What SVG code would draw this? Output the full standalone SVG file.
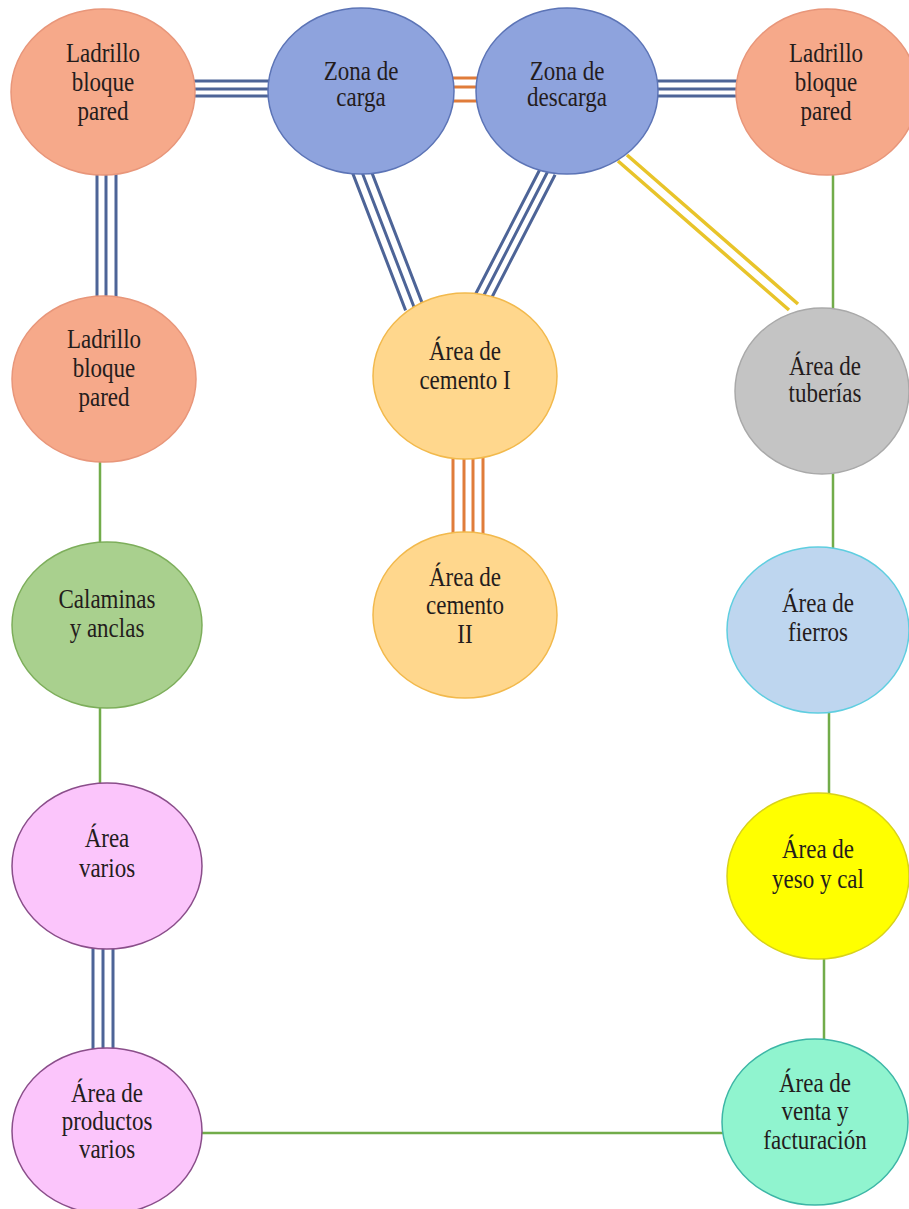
<svg xmlns="http://www.w3.org/2000/svg" width="909" height="1209" viewBox="0 0 909 1209">
  <style>
    .lbl { font-family: "Liberation Serif", "Times New Roman", serif; font-size: 23px; fill: #241c1c; text-anchor: middle; }
    .salmon { fill: #F6A98A; stroke: #E8967A; stroke-width: 1.5; }
    .blue { fill: #8EA3DD; stroke: #5C74B6; stroke-width: 1.5; }
    .cement { fill: #FFD78D; stroke: #F2B94C; stroke-width: 1.5; }
    .gray { fill: #C4C4C4; stroke: #A9A9A9; stroke-width: 1.5; }
    .green { fill: #A9D08E; stroke: #7DAE5B; stroke-width: 1.5; }
    .iron { fill: #BED6EF; stroke: #5FCEE0; stroke-width: 1.5; }
    .gypsum { fill: #FFFF00; stroke: #D8D21A; stroke-width: 1.5; }
    .pink { fill: #FBC5FB; stroke: #8A4E8A; stroke-width: 1.5; }
    .mint { fill: #90F4CF; stroke: #3CB6A6; stroke-width: 1.5; }
    .lb { stroke: #4D6497; stroke-width: 3; fill: none; }
    .lo { stroke: #E07C3A; stroke-width: 3; fill: none; }
    .ly { stroke: #E8C42A; stroke-width: 3.5; fill: none; }
    .lg { stroke: #72AC4A; stroke-width: 2.5; fill: none; }
  </style>
  <rect width="909" height="1209" fill="#ffffff"/>

  <g id="connectors">
    <!-- ladrillo (top-left) to zona de carga -->
    <path class="lb" d="M190 81 H272 M190 89 H272 M190 96 H272"/>
    <!-- zona de carga to zona de descarga -->
    <path class="lo" d="M450 78 H480 M450 87 H480 M450 101 H480"/>
    <!-- zona de descarga to ladrillo (top-right) -->
    <path class="lb" d="M655 81 H740 M655 89 H740 M655 96 H740"/>
    <!-- ladrillo to ladrillo (left column) -->
    <path class="lb" d="M97 170 V300 M106 170 V300 M116 170 V300"/>
    <!-- zona de carga to cemento I -->
    <path class="lb" d="M351.6 170.4 L405.6 310.4 M360 167 L414 307 M368.4 163.6 L422.4 303.6"/>
    <!-- zona de descarga to cemento I -->
    <path class="lb" d="M541 167.3 L475 295.3 M548 171 L482 299 M555.1 174.7 L489.1 302.7"/>
    <!-- zona de descarga to tuberías -->
    <path class="ly" d="M618 161 L789 310 M627 155 L798 304"/>
    <!-- cemento I to cemento II -->
    <path class="lo" d="M453 455 V537 M464 455 V537 M473 455 V537 M483 455 V537"/>
    <!-- área varios to productos varios -->
    <path class="lb" d="M93 944 V1052 M103 944 V1052 M113 944 V1052"/>
    <!-- single green links -->
    <path class="lg" d="M833 170 V312 M833 470 V552 M829 708 V797 M824 955 V1044 M100 458 V546 M100 704 V787 M200 1133 H725"/>
  </g>

  <g id="ladrillo-1">
    <ellipse class="salmon" cx="103" cy="92" rx="92" ry="83"/>
    <text class="lbl" transform="translate(103 62) scale(1 1.15)"><tspan x="0" y="0">Ladrillo</tspan><tspan x="0" y="25.2">bloque</tspan><tspan x="0" y="50.4">pared</tspan></text>
  </g>
  <g id="zona-carga">
    <ellipse class="blue" cx="361" cy="91" rx="93" ry="83"/>
    <text class="lbl" transform="translate(361 80) scale(1 1.15)"><tspan x="0" y="0">Zona de</tspan><tspan x="0" y="22.6">carga</tspan></text>
  </g>
  <g id="zona-descarga">
    <ellipse class="blue" cx="567" cy="91" rx="91" ry="83"/>
    <text class="lbl" transform="translate(567 80) scale(1 1.15)"><tspan x="0" y="0">Zona de</tspan><tspan x="0" y="22.6">descarga</tspan></text>
  </g>
  <g id="ladrillo-2">
    <ellipse class="salmon" cx="827" cy="92" rx="91" ry="83"/>
    <text class="lbl" transform="translate(826 62) scale(1 1.15)"><tspan x="0" y="0">Ladrillo</tspan><tspan x="0" y="25.2">bloque</tspan><tspan x="0" y="50.4">pared</tspan></text>
  </g>
  <g id="ladrillo-3">
    <ellipse class="salmon" cx="104" cy="379" rx="92" ry="83"/>
    <text class="lbl" transform="translate(104 348) scale(1 1.15)"><tspan x="0" y="0">Ladrillo</tspan><tspan x="0" y="25.2">bloque</tspan><tspan x="0" y="50.4">pared</tspan></text>
  </g>
  <g id="cemento-1">
    <ellipse class="cement" cx="465" cy="376" rx="92" ry="83"/>
    <text class="lbl" transform="translate(465 360) scale(1 1.15)"><tspan x="0" y="0">Área de</tspan><tspan x="0" y="25.2">cemento I</tspan></text>
  </g>
  <g id="tuberias">
    <ellipse class="gray" cx="822" cy="391" rx="87" ry="83"/>
    <text class="lbl" transform="translate(825 375) scale(1 1.15)"><tspan x="0" y="0">Área de</tspan><tspan x="0" y="23.5">tuberías</tspan></text>
  </g>
  <g id="calaminas">
    <ellipse class="green" cx="107" cy="625" rx="95" ry="83"/>
    <text class="lbl" transform="translate(107 608) scale(1 1.15)"><tspan x="0" y="0">Calaminas</tspan><tspan x="0" y="25.2">y anclas</tspan></text>
  </g>
  <g id="cemento-2">
    <ellipse class="cement" cx="465" cy="615" rx="92" ry="83"/>
    <text class="lbl" transform="translate(465 586) scale(1 1.15)"><tspan x="0" y="0">Área de</tspan><tspan x="0" y="24.7">cemento</tspan><tspan x="0" y="49.6">II</tspan></text>
  </g>
  <g id="fierros">
    <ellipse class="iron" cx="818" cy="630" rx="91" ry="83"/>
    <text class="lbl" transform="translate(818 612) scale(1 1.15)"><tspan x="0" y="0">Área de</tspan><tspan x="0" y="25.2">fierros</tspan></text>
  </g>
  <g id="area-varios">
    <ellipse class="pink" cx="107" cy="866" rx="95" ry="83"/>
    <text class="lbl" transform="translate(107 847) scale(1 1.15)"><tspan x="0" y="0">Área</tspan><tspan x="0" y="26">varios</tspan></text>
  </g>
  <g id="yeso-cal">
    <ellipse class="gypsum" cx="818" cy="876" rx="91" ry="83"/>
    <text class="lbl" transform="translate(818 858) scale(1 1.15)"><tspan x="0" y="0">Área de</tspan><tspan x="0" y="26">yeso y cal</tspan></text>
  </g>
  <g id="productos-varios">
    <ellipse class="pink" cx="107" cy="1131" rx="95" ry="83"/>
    <text class="lbl" transform="translate(107 1102) scale(1 1.15)"><tspan x="0" y="0">Área de</tspan><tspan x="0" y="24.4">productos</tspan><tspan x="0" y="48.7">varios</tspan></text>
  </g>
  <g id="venta-facturacion">
    <ellipse class="mint" cx="815" cy="1122" rx="93" ry="83"/>
    <text class="lbl" transform="translate(815 1092) scale(1 1.15)"><tspan x="0" y="0">Área de</tspan><tspan x="0" y="24.4">venta y</tspan><tspan x="0" y="49.6">facturación</tspan></text>
  </g>
</svg>
